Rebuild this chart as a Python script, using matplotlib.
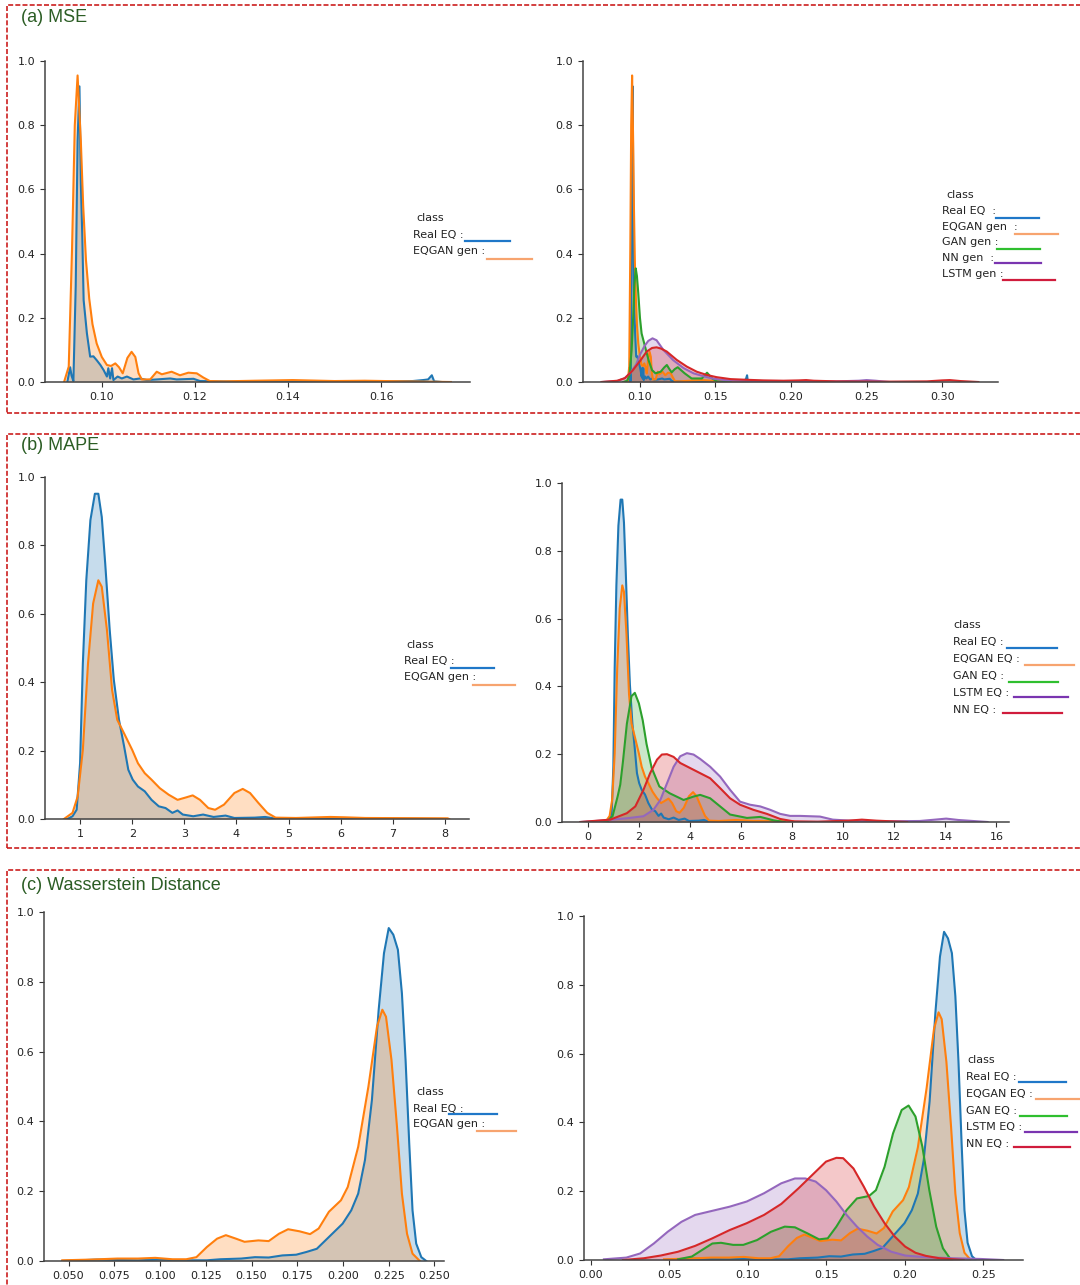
import matplotlib
matplotlib.use("Agg")
import matplotlib.pyplot as plt
from matplotlib.lines import Line2D
from matplotlib.patches import Rectangle

# density curves (x value, density)
mse_real_x = [0.0926, 0.0932, 0.0935, 0.0939, 0.0944, 0.0948, 0.0952, 0.0955, 0.0958, 0.0961, 0.0968,
              0.0975, 0.0982, 0.0989, 0.0997, 0.1004, 0.1011, 0.1014, 0.1018, 0.1022, 0.1025, 0.1034,
              0.1043, 0.1054, 0.1068, 0.1082, 0.1097, 0.1118, 0.1147, 0.1161, 0.1197, 0.1211, 0.1250,
              0.1300, 0.1400, 0.1500, 0.1600, 0.1668, 0.1690, 0.1701, 0.1709, 0.1714, 0.1730]
mse_real_y = [0.0, 0.046, 0.020, 0.003, 0.30, 0.75, 0.921, 0.62, 0.46, 0.255, 0.152,
              0.079, 0.080, 0.068, 0.053, 0.037, 0.017, 0.043, 0.011, 0.043, 0.006, 0.017,
              0.011, 0.017, 0.008, 0.011, 0.006, 0.008, 0.011, 0.008, 0.010, 0.003, 0.002,
              0.001, 0.002, 0.001, 0.002, 0.003, 0.006, 0.008, 0.021, 0.002, 0.0]

mse_eqgan_x = [0.0919, 0.0929, 0.0936, 0.0942, 0.0948, 0.0955, 0.0960, 0.0966, 0.0973, 0.0980, 0.0989,
               0.1000, 0.1011, 0.1020, 0.1029, 0.1037, 0.1045, 0.1055, 0.1064, 0.1072, 0.1079, 0.1086,
               0.1104, 0.1118, 0.1129, 0.1150, 0.1168, 0.1186, 0.1204, 0.1218, 0.1232, 0.1260, 0.1330,
               0.1410, 0.1500, 0.1565, 0.1650, 0.1750]
mse_eqgan_y = [0.0, 0.048, 0.41, 0.80, 0.955, 0.75, 0.55, 0.38, 0.26, 0.18, 0.12,
               0.078, 0.053, 0.050, 0.058, 0.046, 0.027, 0.075, 0.094, 0.078, 0.027, 0.008,
               0.008, 0.032, 0.024, 0.032, 0.021, 0.029, 0.027, 0.014, 0.003, 0.002, 0.004,
               0.006, 0.003, 0.004, 0.002, 0.0]

mse_gan_x = [0.0890, 0.0915, 0.0930, 0.0945, 0.0955, 0.0963, 0.0972, 0.0980, 0.0989, 0.1000, 0.1011,
             0.1034, 0.1057, 0.1080, 0.1103, 0.1137, 0.1160, 0.1178, 0.1195, 0.1210, 0.1230, 0.1250,
             0.1296, 0.1342, 0.1410, 0.1444, 0.1478, 0.1510, 0.1600]
mse_gan_y = [0.0, 0.004, 0.02, 0.10, 0.20, 0.30, 0.354, 0.33, 0.276, 0.20, 0.151,
             0.11, 0.068, 0.037, 0.027, 0.032, 0.045, 0.053, 0.040, 0.030, 0.040, 0.046,
             0.027, 0.011, 0.011, 0.029, 0.011, 0.002, 0.0]

mse_nn_x = [0.075, 0.085, 0.090, 0.094, 0.0975, 0.100, 0.1030, 0.1055, 0.1083, 0.1110, 0.1155, 0.1220,
            0.1290, 0.1355, 0.1420, 0.1490, 0.1560, 0.1650, 0.1750, 0.200, 0.230, 0.245, 0.250, 0.256, 0.265]
mse_nn_y = [0.0, 0.003, 0.012, 0.030, 0.055, 0.085, 0.112, 0.128, 0.136, 0.130, 0.100, 0.068,
            0.043, 0.027, 0.018, 0.010, 0.006, 0.004, 0.003, 0.002, 0.002, 0.004, 0.006, 0.004, 0.0]

mse_lstm_x = [0.0745, 0.085, 0.090, 0.095, 0.100, 0.1045, 0.1080, 0.1110, 0.1140, 0.1177, 0.1243,
              0.1310, 0.1376, 0.1442, 0.1508, 0.1600, 0.1700, 0.1820, 0.1950, 0.2050, 0.2100, 0.2150,
              0.2300, 0.2600, 0.2900, 0.3000, 0.3050, 0.3120, 0.3240]
mse_lstm_y = [0.0, 0.004, 0.012, 0.035, 0.065, 0.095, 0.106, 0.108, 0.104, 0.095, 0.069,
              0.048, 0.032, 0.022, 0.015, 0.009, 0.007, 0.005, 0.004, 0.005, 0.006, 0.004,
              0.002, 0.001, 0.002, 0.005, 0.006, 0.003, 0.0]

mape_real_x = [0.756, 0.855, 0.934, 1.0, 1.053, 1.119, 1.198, 1.284, 1.350, 1.416, 1.482, 1.568, 1.647,
               1.746, 1.845, 1.925, 2.01, 2.11, 2.24, 2.37, 2.51, 2.64, 2.77, 2.87, 2.97, 3.17, 3.36,
               3.56, 3.79, 3.96, 4.35, 4.55, 4.75, 5.21, 6.0, 7.0, 8.0]
mape_real_y = [0.0, 0.008, 0.027, 0.163, 0.455, 0.698, 0.874, 0.951, 0.951, 0.883, 0.747, 0.553, 0.407,
               0.29, 0.212, 0.144, 0.115, 0.095, 0.081, 0.056, 0.037, 0.032, 0.018, 0.025, 0.013, 0.008, 0.013,
               0.006, 0.010, 0.003, 0.004, 0.006, 0.001, 0.002, 0.001, 0.001, 0.0]

mape_eqgan_x = [0.69, 0.855, 0.954, 1.053, 1.152, 1.25, 1.35, 1.416, 1.515, 1.614, 1.713, 1.845, 2.0,
                2.11, 2.24, 2.37, 2.53, 2.70, 2.87, 3.03, 3.16, 3.30, 3.46, 3.59, 3.76, 3.96, 4.12,
                4.26, 4.42, 4.59, 4.75, 5.14, 5.80, 6.07, 6.47, 8.05, 8.08]
mape_eqgan_y = [0.0, 0.018, 0.066, 0.202, 0.455, 0.63, 0.698, 0.679, 0.553, 0.377, 0.29, 0.25, 0.202,
                0.163, 0.134, 0.115, 0.09, 0.071, 0.056, 0.063, 0.069, 0.056, 0.032, 0.027, 0.042, 0.076, 0.088,
                0.076, 0.047, 0.018, 0.004, 0.003, 0.006, 0.005, 0.003, 0.002, 0.0]

mape_gan_x = [0.5, 0.77, 0.97, 1.17, 1.27, 1.37, 1.53, 1.71, 1.84, 2.0, 2.15, 2.30, 2.50, 2.80, 3.20,
              3.75, 4.14, 4.40, 4.79, 5.18, 5.57, 6.23, 6.75, 7.27, 7.70]
mape_gan_y = [0.0, 0.003, 0.017, 0.076, 0.11, 0.174, 0.29, 0.371, 0.381, 0.35, 0.30, 0.23, 0.16, 0.105, 0.085,
              0.065, 0.075, 0.08, 0.07, 0.046, 0.022, 0.012, 0.015, 0.005, 0.0]

mape_lstm_x = [-0.29, 0.5, 1.53, 2.18, 2.57, 2.84, 3.10, 3.36, 3.62, 3.88, 4.14, 4.40, 4.79, 5.18, 5.57,
               5.96, 6.35, 6.75, 7.14, 7.53, 7.92, 8.31, 8.70, 9.09, 9.59, 10.26, 11.6, 13.0, 13.6, 14.03,
               14.5, 15.65]
mape_lstm_y = [0.0, 0.004, 0.011, 0.017, 0.036, 0.065, 0.114, 0.163, 0.194, 0.203, 0.199, 0.186, 0.163, 0.134,
               0.095, 0.060, 0.051, 0.046, 0.036, 0.024, 0.018, 0.018, 0.017, 0.016, 0.007, 0.004, 0.002,
               0.003, 0.007, 0.010, 0.006, 0.0]

mape_nn_x = [-0.29, 0.88, 1.53, 1.86, 2.18, 2.44, 2.71, 2.90, 3.10, 3.36, 3.62, 4.01, 4.40, 4.79, 5.18,
             5.57, 5.96, 6.48, 7.01, 7.53, 8.05, 9.0, 10.2, 10.73, 11.3, 12.5]
mape_nn_y = [0.0, 0.007, 0.026, 0.046, 0.095, 0.144, 0.184, 0.199, 0.20, 0.192, 0.174, 0.159, 0.144, 0.129,
             0.100, 0.070, 0.051, 0.036, 0.024, 0.009, 0.002, 0.001, 0.004, 0.007, 0.004, 0.0]

wd_real_x = [0.0466, 0.0654, 0.088, 0.0992, 0.1105, 0.1256, 0.133, 0.1444, 0.1519, 0.1594, 0.1669,
             0.1744, 0.1801, 0.1857, 0.1904, 0.1951, 0.1998, 0.2045, 0.2083, 0.212, 0.2158, 0.2195,
             0.2224, 0.2250, 0.2275, 0.2300, 0.2322, 0.2342, 0.2362, 0.2380, 0.2400, 0.2428, 0.2455]
wd_real_y = [0.0, 0.004, 0.002, 0.004, 0.002, 0.002, 0.005, 0.007, 0.011, 0.010, 0.016,
             0.018, 0.026, 0.035, 0.059, 0.083, 0.107, 0.145, 0.193, 0.289, 0.461, 0.72,
             0.882, 0.954, 0.935, 0.892, 0.767, 0.576, 0.337, 0.145, 0.05, 0.011, 0.0]

wd_eqgan_x = [0.0466, 0.0617, 0.0767, 0.088, 0.0974, 0.1068, 0.1143, 0.1199, 0.1256, 0.1312, 0.1360,
              0.1415, 0.1462, 0.1538, 0.1594, 0.1650, 0.1700, 0.1763, 0.1820, 0.1867, 0.1923, 0.1989,
              0.2026, 0.2083, 0.2139, 0.2186, 0.2215, 0.2235, 0.2265, 0.2295, 0.2322, 0.2350, 0.2380, 0.2420]
wd_eqgan_y = [0.002, 0.004, 0.007, 0.007, 0.009, 0.005, 0.005, 0.011, 0.040, 0.064, 0.074,
              0.064, 0.055, 0.059, 0.057, 0.078, 0.091, 0.085, 0.077, 0.093, 0.141, 0.174,
              0.212, 0.327, 0.50, 0.672, 0.72, 0.70, 0.576, 0.385, 0.193, 0.078, 0.021, 0.0]

wd_gan_x = [0.0555, 0.0643, 0.0708, 0.0774, 0.0829, 0.0906, 0.0971, 0.1059, 0.1147, 0.1235,
            0.1300, 0.1377, 0.1454, 0.1509, 0.1564, 0.1629, 0.1695, 0.1772, 0.1816, 0.1871,
            0.1925, 0.1980, 0.2024, 0.2068, 0.2112, 0.2156, 0.2200, 0.2243, 0.2287, 0.2309]
wd_gan_y = [0.002, 0.010, 0.029, 0.048, 0.050, 0.044, 0.044, 0.058, 0.082, 0.097,
            0.095, 0.078, 0.060, 0.063, 0.097, 0.145, 0.179, 0.186, 0.203, 0.271,
            0.368, 0.436, 0.449, 0.417, 0.329, 0.203, 0.097, 0.034, 0.005, 0.0]

wd_lstm_x = [0.0083, 0.0226, 0.0314, 0.0401, 0.0489, 0.0577, 0.0664, 0.0774, 0.0884, 0.0993,
             0.1103, 0.1213, 0.1300, 0.1366, 0.1432, 0.1498, 0.1564, 0.1629, 0.1695, 0.1761,
             0.1827, 0.1914, 0.2002, 0.2134, 0.2309, 0.2485, 0.2627]
wd_lstm_y = [0.002, 0.007, 0.019, 0.048, 0.082, 0.111, 0.131, 0.143, 0.155, 0.170,
             0.194, 0.223, 0.237, 0.237, 0.228, 0.203, 0.170, 0.131, 0.097, 0.068,
             0.044, 0.024, 0.013, 0.008, 0.005, 0.003, 0.0]

wd_nn_x = [0.0204, 0.0336, 0.0445, 0.0555, 0.0664, 0.0774, 0.0884, 0.0993, 0.1103, 0.1213,
           0.1322, 0.1410, 0.1498, 0.1564, 0.1607, 0.1673, 0.1739, 0.1805, 0.1871, 0.1936,
           0.2002, 0.2068, 0.2134, 0.2221, 0.2375]
wd_nn_y = [0.0, 0.005, 0.013, 0.024, 0.041, 0.063, 0.087, 0.107, 0.131, 0.163,
           0.208, 0.247, 0.286, 0.297, 0.296, 0.266, 0.213, 0.155, 0.107, 0.068,
           0.039, 0.021, 0.012, 0.005, 0.0]

mse_ticks = [0.10, 0.12, 0.14, 0.16]
mse_ticks_all = [0.10, 0.15, 0.20, 0.25, 0.30]
mape_ticks = [1, 2, 3, 4, 5, 6, 7, 8]
mape_ticks_all = [0, 2, 4, 6, 8, 10, 12, 14, 16]
wd_ticks = [0.050, 0.075, 0.100, 0.125, 0.150, 0.175, 0.200, 0.225, 0.250]
wd_ticks_all = [0.00, 0.05, 0.10, 0.15, 0.20, 0.25]
y_ticks = [0.0, 0.2, 0.4, 0.6, 0.8, 1.0]

BLUE, ORANGE, GREEN, RED, PURPLE = "#1f77b4", "#ff7f0e", "#2ca02c", "#d62728", "#9467bd"

W, H = 1080, 1285
fig = plt.figure(figsize=(W / 100, H / 100), dpi=100)


def px(x, y):
    return x / W, 1 - y / H


def kde_panel(left, right, top, bottom, xlim, xticks, fmt, curves):
    ax = fig.add_axes([left / W, 1 - bottom / H, (right - left) / W, (bottom - top) / H])
    for xs, ys, c in curves:
        ax.fill_between(xs, ys, 0, color=c, alpha=0.25, lw=0)
        ax.plot(xs, ys, color=c, lw=1.5)
    ax.set_xlim(xlim)
    ax.set_ylim(0, 1.0)
    ax.set_xticks(xticks)
    ax.set_xticklabels([fmt.format(t) for t in xticks])
    ax.set_yticks(y_ticks)
    ax.set_yticklabels(["{:.1f}".format(t) for t in y_ticks])
    for s in ["top", "right"]:
        ax.spines[s].set_visible(False)
    for s in ["left", "bottom"]:
        ax.spines[s].set_color("#444444")
        ax.spines[s].set_linewidth(1.1)
    ax.tick_params(labelsize=8, colors="#333333", length=3.5, width=0.8)
    ax.tick_params(labelcolor="#222222")
    ax.patch.set_alpha(0)
    return ax


def legend_block(title_xy, rows):
    fig.text(*px(*title_xy), "class", fontsize=8, va="center", ha="left", color="#222222")
    for label, tx, ty, x0, x1, ly, c in rows:
        fig.text(*px(tx, ty), label, fontsize=8, va="center", ha="left", color="#222222")
        fig.add_artist(Line2D([x0 / W, x1 / W], [1 - ly / H, 1 - ly / H], color=c, lw=1.6,
                              transform=fig.transFigure))


def box(top, bottom):
    fig.add_artist(Rectangle(px(7, bottom), (1095 - 7) / W, (bottom - top) / H, fill=False,
                             ec="#cc1f1f", lw=1.2, ls=(0, (3, 1.3)), transform=fig.transFigure,
                             clip_on=False))


box(5, 413)
box(434, 848)
box(870, 1300)

title_kw = dict(fontsize=13, color="#2b5d24", family="Liberation Sans", va="center", ha="left")
fig.text(*px(21, 17), "(a) MSE", **title_kw)
fig.text(*px(21, 445), "(b) MAPE", **title_kw)
fig.text(*px(21, 885), "(c) Wasserstein Distance", **title_kw)

# (a) MSE
kde_panel(45, 470, 61, 382, (0.0878, 0.1791), mse_ticks, "{:.2f}",
          [(mse_real_x, mse_real_y, BLUE), (mse_eqgan_x, mse_eqgan_y, ORANGE)])
kde_panel(583, 998, 61, 382, (0.0623, 0.337), mse_ticks_all, "{:.2f}",
          [(mse_real_x, mse_real_y, BLUE), (mse_eqgan_x, mse_eqgan_y, ORANGE),
           (mse_gan_x, mse_gan_y, GREEN), (mse_nn_x, mse_nn_y, PURPLE),
           (mse_lstm_x, mse_lstm_y, RED)])

# (b) MAPE
kde_panel(45, 469, 477, 819, (0.327, 8.46), mape_ticks, "{:d}",
          [(mape_real_x, mape_real_y, BLUE), (mape_eqgan_x, mape_eqgan_y, ORANGE)])
kde_panel(562, 1009, 483, 822, (-1.01, 16.49), mape_ticks_all, "{:d}",
          [(mape_real_x, mape_real_y, BLUE), (mape_eqgan_x, mape_eqgan_y, ORANGE),
           (mape_gan_x, mape_gan_y, GREEN), (mape_lstm_x, mape_lstm_y, PURPLE),
           (mape_nn_x, mape_nn_y, RED)])

# (c) Wasserstein distance
kde_panel(44, 444, 912, 1261, (0.0366, 0.2552), wd_ticks, "{:.3f}",
          [(wd_real_x, wd_real_y, BLUE), (wd_eqgan_x, wd_eqgan_y, ORANGE)])
kde_panel(584, 1023, 916, 1260, (-0.0044, 0.2753), wd_ticks_all, "{:.2f}",
          [(wd_real_x, wd_real_y, BLUE), (wd_eqgan_x, wd_eqgan_y, ORANGE),
           (wd_gan_x, wd_gan_y, GREEN), (wd_lstm_x, wd_lstm_y, PURPLE),
           (wd_nn_x, wd_nn_y, RED)])

# hand-made legends
LB, LO, LG, LP, LR = "#1f77c8", "#f7a46f", "#2fbf2f", "#7a35b0", "#d01c3c"
legend_block((416, 218), [
    ("Real EQ :", 413, 235, 465, 510, 241, LB),
    ("EQGAN gen :", 413, 251, 487, 532, 259, LO)])
legend_block((946, 195), [
    ("Real EQ  :", 942, 211, 996, 1039, 218, LB),
    ("EQGAN gen  :", 942, 227, 1015, 1058, 234, LO),
    ("GAN gen :", 942, 242, 997, 1040, 249, LG),
    ("NN gen  :", 942, 258, 995, 1041, 263, LP),
    ("LSTM gen :", 942, 274, 1003, 1055, 280, LR)])
legend_block((406, 645), [
    ("Real EQ :", 404, 661, 451, 494, 668, LB),
    ("EQGAN gen :", 404, 677, 473, 515, 685, LO)])
legend_block((953, 625), [
    ("Real EQ :", 953, 642, 1007, 1057, 648, LB),
    ("EQGAN EQ :", 953, 659, 1025, 1074, 665, LO),
    ("GAN EQ :", 953, 676, 1009, 1058, 682, LG),
    ("LSTM EQ :", 953, 693, 1014, 1068, 697, LP),
    ("NN EQ :", 953, 710, 1003, 1062, 713, LR)])
legend_block((416, 1092), [
    ("Real EQ :", 413, 1109, 449, 497, 1114, LB),
    ("EQGAN gen :", 413, 1124, 477, 516, 1131, LO)])
legend_block((967, 1060), [
    ("Real EQ :", 966, 1077, 1019, 1066, 1082, LB),
    ("EQGAN EQ :", 966, 1094, 1036, 1080, 1099, LO),
    ("GAN EQ :", 966, 1111, 1020, 1067, 1116, LG),
    ("LSTM EQ :", 966, 1127, 1025, 1077, 1132, LP),
    ("NN EQ :", 966, 1144, 1014, 1070, 1147, LR)])

fig.savefig("out.png", dpi=100)
